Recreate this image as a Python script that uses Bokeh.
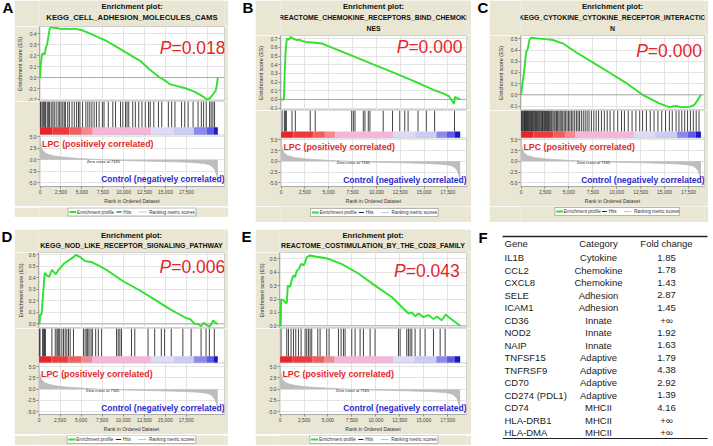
import math
from bokeh.plotting import figure
from bokeh.layouts import row, column
from bokeh.models import (Range1d, FixedTicker, PrintfTickFormatter, NumeralTickFormatter,
                          Span, Grid, Spacer, BoxAnnotation, Label)
from bokeh.embed import file_html
from bokeh.resources import INLINE
from bokeh.core.properties import value

FONT = "Liberation Sans"
BEIGE = "#e9e6d4"
GREEN = "#2fe02f"
RED = "#e3262b"
BLUE = "#2b2bcc"
GRIDC = "#e4e4e4"

# ---------------- data ----------------
panel_letters = ["A", "B", "C", "D", "E"]
title_lines = [
    ["Enrichment plot:", "KEGG_CELL_ADHESION_MOLECULES_CAMS"],
    ["Enrichment plot:", "REACTOME_CHEMOKINE_RECEPTORS_BIND_CHEMOKI", "NES"],
    ["Enrichment plot:", "KEGG_CYTOKINE_CYTOKINE_RECEPTOR_INTERACTIO", "N"],
    ["Enrichment plot:", "KEGG_NOD_LIKE_RECEPTOR_SIGNALING_PATHWAY"],
    ["Enrichment plot:", "REACTOME_COSTIMULATION_BY_THE_CD28_FAMILY"],
]
p_values = ["0.018", "0.000", "0.000", "0.006", "0.043"]
x_ticks = [0, 2500, 5000, 7500, 10000, 12500, 15000, 17500]
es_ticks = [
    [-0.2, -0.1, 0.0, 0.1, 0.2, 0.3, 0.4],
    [-0.1, 0.0, 0.1, 0.2, 0.3, 0.4, 0.5, 0.6, 0.7],
    [-0.1, 0.0, 0.1, 0.2, 0.3, 0.4, 0.5],
    [0.0, 0.1, 0.2, 0.3, 0.4, 0.5, 0.6],
    [0.0, 0.1, 0.2, 0.3, 0.4, 0.5],
]
metric_ticks = [-5.0, -2.5, 0.0, 2.5, 5.0]

es_rank_A = [0, 60, 150, 250, 400, 550, 700, 850, 1000, 1150, 1300, 1500, 2000, 2500, 3000,
             3500, 4100, 5000, 6000, 7000, 8000, 9000, 10000, 11000, 12000, 13000, 14300,
             15000, 15500, 16500, 17500, 18500, 19200, 19600, 19900, 20300, 20700, 21000,
             21150, 21250]
es_val_A = [0.0, 0.08, 0.16, 0.21, 0.22, 0.21, 0.27, 0.30, 0.37, 0.44, 0.46, 0.455, 0.45, 0.44,
            0.445, 0.44, 0.445, 0.43, 0.40, 0.365, 0.33, 0.285, 0.24, 0.195, 0.15, 0.08, 0.0,
            -0.03, -0.06, -0.08, -0.10, -0.13, -0.16, -0.18, -0.20, -0.19, -0.15, -0.12,
            -0.06, 0.0]
es_rank_B = [0, 300, 380, 480, 600, 800, 1000, 1150, 1300, 1500, 1700, 1900, 2200, 2600, 3000,
             3500, 4300, 6000, 8000, 10000, 12000, 14000, 16000, 17000, 17600, 18150, 18250,
             18450, 18800]
es_val_B = [0.0, 0.0, 0.30, 0.57, 0.70, 0.69, 0.72, 0.71, 0.70, 0.69, 0.685, 0.69, 0.675, 0.665,
            0.66, 0.655, 0.645, 0.57, 0.48, 0.39, 0.30, 0.21, 0.11, 0.07, 0.04, -0.05, 0.03,
            0.02, 0.0]
es_rank_C = [0, 120, 348, 522, 700, 870, 1044, 1500, 2262, 3306, 4350, 5742, 7482, 9222, 10962,
             12702, 14442, 15486, 16182, 16700, 17226, 17700, 18096, 18444, 18800]
es_val_C = [0.0, 0.08, 0.23, 0.38, 0.41, 0.49, 0.51, 0.505, 0.50, 0.49, 0.46, 0.38, 0.29, 0.20,
            0.107, 0.0, -0.076, -0.11, -0.10, -0.11, -0.11, -0.105, -0.09, -0.05, 0.0]
es_rank_D = [0, 80, 118, 300, 552, 670, 749, 946, 1221, 1537, 2010, 2325, 2916, 3507, 4098, 4373,
             4885, 5477, 6265, 7053, 8000, 10000, 12000, 14000, 15500, 16500, 17500, 18000,
             18500, 18900, 19270, 19600, 19900, 20250, 20500, 20700, 21000, 21250]
es_val_D = [0.0, 0.0, 0.08, 0.08, 0.32, 0.44, 0.44, 0.42, 0.41, 0.47, 0.43, 0.47, 0.52, 0.55,
            0.58, 0.60, 0.58, 0.545, 0.537, 0.508, 0.47, 0.37, 0.29, 0.20, 0.13, 0.09, 0.05,
            0.04, 0.0, 0.0, -0.02, 0.01, -0.01, -0.025, 0.0, 0.03, 0.01, 0.0]
es_rank_E = [0, 73, 104, 351, 630, 700, 804, 1044, 1218, 1395, 1566, 1740, 1984, 2193, 2440,
             2610, 2784, 3132, 3654, 4350, 5046, 6441, 8176, 9917, 11657, 13394, 13750, 14100,
             14440, 14960, 15484, 16006, 16355, 16877, 17300, 17572, 18800]
es_val_E = [0.0, 0.0, 0.198, 0.19, 0.17, 0.17, 0.30, 0.29, 0.34, 0.376, 0.364, 0.41, 0.426,
            0.463, 0.45, 0.475, 0.512, 0.525, 0.517, 0.51, 0.50, 0.46, 0.39, 0.30, 0.215, 0.092,
            0.10, 0.072, 0.092, 0.065, 0.08, 0.05, 0.07, 0.042, 0.085, 0.065, 0.0]

hits_A = [40, 120, 276, 434, 560, 670, 868, 1000, 1144, 1341, 1538, 1700, 1932, 2169, 2350, 2524,
          2721, 2900, 3037, 3312, 3510, 3825, 4101, 4377, 4600, 4771, 5087, 5481, 5718, 5954,
          6200, 6468, 6743, 7059, 7453, 7650, 8163, 8700, 9030, 9622, 9898, 10213, 10400, 10608,
          11081, 11396, 11800, 12185, 12579, 12973, 13170, 13600, 14157, 14551, 15340, 15734,
          16128, 16917, 17300, 17706, 18297, 18889, 19283, 19550, 19874, 20268, 20450, 20662,
          20860]
hits_B = [104, 348, 452, 557, 1148, 1496, 3062, 3584, 7412, 7586, 7760, 8630, 8804, 9152, 9326,
          10718, 11693, 12459, 12981, 13329, 14373, 15244, 16113, 18200]
hits_C = [40, 120, 200, 290, 350, 420, 480, 560, 640, 700, 790, 860, 950, 1020, 1100, 1180, 1270,
          1350, 1440, 1520, 1600, 1700, 1780, 1870, 1950, 2060, 2150, 2240, 2330, 2450, 2560,
          2650, 2760, 2870, 2980, 3100, 3200, 3330, 3450, 3560, 3700, 3820, 3950, 4080, 4200,
          4350, 4500, 4630, 4800, 4950, 5100, 5260, 5420, 5600, 5780, 5950, 6100, 6300, 6500,
          6700, 6900, 7100, 7350, 7600, 7850, 8100, 8400, 8700, 9000, 9300, 9700, 10100, 10500,
          10800, 11200, 11600, 12000, 12400, 12700, 13100, 13500, 13900, 14300, 14700, 15100,
          15500, 15800, 16200, 16500, 16800, 17100, 17400, 17700, 18000, 18300, 18600]
hits_D = [39, 120, 433, 520, 650, 760, 1537, 1931, 2128, 2246, 2364, 2482, 2719, 2916, 3113, 3310,
          3507, 3704, 4098, 5280, 5477, 5674, 5792, 5949, 6186, 6344, 6737, 7053, 7447, 9220,
          9417, 9614, 9811, 10993, 11387, 12963, 13751, 14539, 14932, 15721, 17100, 18084,
          19266, 19858, 20252, 20842]
hits_E = [100, 699, 873, 1148, 1395, 1639, 1917, 2193, 2610, 2784, 2961, 3132, 3306, 3935, 4176,
          4872, 5116, 6094, 6368, 6615, 6787, 7483, 7830, 8352, 8703, 9396, 9917, 12358, 12530,
          13225, 13400, 13573, 13750, 14095, 14617, 15139, 16013, 16709, 17232]

metric_rank_short = [0, 40, 120, 250, 450, 700, 1000, 1500, 2200, 3000, 4000, 5200, 6200, 7165,
                     8500, 10000, 11500, 13000, 14500, 15800, 16800, 17500, 17950, 18250, 18500,
                     18680, 18800]
metric_rank_long = [0, 45, 135, 280, 500, 780, 1100, 1650, 2400, 3200, 4200, 5400, 6300, 7165,
                    8800, 10600, 12400, 14300, 16200, 17800, 18900, 19700, 20250, 20600, 20900,
                    21130, 21250]
metric_values = [5.5, 4.2, 3.0, 2.2, 1.7, 1.35, 1.1, 0.85, 0.65, 0.5, 0.35, 0.2, 0.1, 0.0, -0.1,
                 -0.2, -0.28, -0.36, -0.45, -0.55, -0.68, -0.85, -1.1, -1.5, -2.2, -3.4, -5.0]
zero_cross = 7165

grad_edges_long = [0, 1500, 3500, 5000, 6300, 13300, 16000, 18400, 19900, 20800, 21250]
grad_edges_short = [0, 1300, 3400, 4600, 5700, 11800, 14000, 16300, 17400, 18250, 18800]
grad_colors = ["#e8232a", "#ec3a3d", "#ef5f62", "#f28a8f", "#f6b6da", "#dcdcf7", "#cdcdf4",
               "#8a8aee", "#5b5be6", "#1717c4"]

legend_labels = ["Enrichment profile", "Hits", "Ranking metric scores"]
legend_colors = [GREEN, "#222222", "#c4c4c4"]
legend_widths = [2, 1, 1]

table_header = ["Gene", "Category", "Fold change"]
table_genes = ["IL1B", "CCL2", "CXCL8", "SELE", "ICAM1", "CD36", "NOD2", "NAIP", "TNFSF15",
               "TNFRSF9", "CD70", "CD274 (PDL1)", "CD74", "HLA-DRB1", "HLA-DMA"]
table_categories = ["Cytokine", "Chemokine", "Chemokine", "Adhesion", "Adhesion", "Innate",
                    "Innate", "Innate", "Adaptive", "Adaptive", "Adaptive", "Adaptive", "MHCII",
                    "MHCII", "MHCII"]
table_fold = ["1.85", "1.78", "1.43", "2.87", "1.45", "+\u221e", "1.92", "1.63", "1.79", "4.38",
              "2.92", "1.39", "4.16", "+\u221e", "+\u221e"]

es_ranks = [es_rank_A, es_rank_B, es_rank_C, es_rank_D, es_rank_E]
es_vals = [es_val_A, es_val_B, es_val_C, es_val_D, es_val_E]
hits = [hits_A, hits_B, hits_C, hits_D, hits_E]
long_set = [True, False, False, True, False]

# ---------------- layout (pixels / positions) ----------------
cfgs = [
    dict(w=214, L=23, R=4, x_end=22050, title_h=26, title_y=[6, 17], t_fs="7.7px", es_h=75,
         es_range=(-0.218, 0.464), hits_h=35, g=0.296, m_frame=54, ax_h=16, leg_h=11,
         leg_b=2.5, leg_x0=33, m_range=(-5.83, 5.42), p_pos=(15720, 0.27), lab_x=-15),
    dict(w=216, L=24, R=5, x_end=19460, title_h=35, title_y=[6, 17, 28], t_fs="6.9px", es_h=75,
         es_range=(-0.127, 0.738), hits_h=29, g=0.318, m_frame=51, ax_h=16, leg_h=16,
         leg_b=6, leg_x0=35, m_range=(-5.89, 5.44), p_pos=(13360, 0.60), lab_x=-16.5),
    dict(w=219, L=31, R=4, x_end=19170, title_h=35, title_y=[6, 17, 28], t_fs="6.9px", es_h=75,
         es_range=(-0.14, 0.53), hits_h=29, g=0.318, m_frame=51, ax_h=16, leg_h=16,
         leg_b=7, leg_x0=41, m_range=(-5.89, 5.44), p_pos=(13250, 0.39), lab_x=-15),
    dict(w=214, L=23, R=4, x_end=22050, title_h=23, title_y=[6, 16], t_fs="7px", es_h=76,
         es_range=(-0.04, 0.62), hits_h=36, g=0.241, m_frame=54, ax_h=16, leg_h=11,
         leg_b=3, leg_x0=33, m_range=(-5.64, 5.85), p_pos=(15720, 0.49), lab_x=-15),
    dict(w=216, L=24, R=5, x_end=19460, title_h=23, title_y=[6, 16], t_fs="7px", es_h=76,
         es_range=(-0.02, 0.547), hits_h=36, g=0.241, m_frame=54, ax_h=16, leg_h=11,
         leg_b=3, leg_x0=35, m_range=(-5.64, 5.85), p_pos=(13120, 0.41), lab_x=-16),
]
X_START = -60
# legend item geometry relative to the legend box left: (glyph start, glyph width, standoff)
leg_items_geom = [(1.5, 8, 1), (56, 6, 2), (82, 9, 3)]
LEG_BOX_W = 148
LEG_BOX_H = 8


def common(**kw):
    return dict(output_backend="svg", toolbar_location=None, title_location=None, **kw)


def style_axis(ax, label, size):
    if label is not None:
        ax.axis_label = label
    ax.axis_label_text_font = FONT
    ax.axis_label_text_font_size = size
    ax.axis_label_text_font_style = "normal"
    ax.axis_label_text_color = "#333333"
    ax.axis_label_standoff = 1
    ax.major_label_text_font = FONT
    ax.major_label_text_font_size = "4.9px"
    ax.major_label_text_color = "#444444"
    ax.major_label_standoff = 1
    ax.major_tick_out = 2
    ax.major_tick_in = 0
    ax.minor_tick_out = 0
    ax.minor_tick_in = 0
    ax.major_tick_line_color = "#888888"
    ax.axis_line_color = "#9a9a9a"
    ax.axis_line_width = 0.7


def beige_box(p):
    p.grid.visible = False
    p.outline_line_color = None
    p.background_fill_color = BEIGE
    p.border_fill_color = BEIGE


def panel(i):
    c = cfgs[i]
    w = c["w"]
    n_lines = len(title_lines[i])
    # title strip
    pt = figure(width=w, height=c["title_h"], x_range=Range1d(0, 1),
                y_range=Range1d(c["title_h"], 0), x_axis_location=None,
                y_axis_location=None, min_border=0, **common())
    beige_box(pt)
    pt.text(x=[0.5], y=c["title_y"][:1], text=title_lines[i][:1], text_align="center",
            text_baseline="middle", text_font=value(FONT), text_font_style="bold",
            text_font_size="7.7px", text_color="#111111")
    pt.text(x=[0.5] * (n_lines - 1), y=c["title_y"][1:], text=title_lines[i][1:],
            text_align="center", text_baseline="middle", text_font=value(FONT),
            text_font_style="bold", text_font_size=c["t_fs"], text_color="#111111")

    xr = Range1d(X_START, c["x_end"])
    # enrichment score
    pe = figure(width=w, height=c["es_h"], x_range=xr, y_range=Range1d(*c["es_range"]),
                x_axis_location=None, min_border_left=c["L"], min_border_right=c["R"],
                min_border_top=0, min_border_bottom=0, **common())
    pe.background_fill_color = "white"
    pe.border_fill_color = BEIGE
    pe.outline_line_color = "#c4c4c4"
    pe.outline_line_width = 0.8
    pe.yaxis.ticker = FixedTicker(ticks=es_ticks[i])
    pe.yaxis.formatter = PrintfTickFormatter(format="%.1f")
    style_axis(pe.yaxis[0], "Enrichment score (ES)", "5.4px")
    pe.yaxis.axis_label_standoff = 2
    pe.ygrid.grid_line_color = GRIDC
    pe.add_layout(Grid(dimension=0, ticker=FixedTicker(ticks=x_ticks), grid_line_color=GRIDC))
    pe.add_layout(Span(location=0, dimension="width", line_color="#9a9a9a", line_width=0.8))
    pe.line(es_ranks[i], es_vals[i], line_color=GREEN, line_width=1.9)
    px, py = c["p_pos"]
    pe.text(x=[px], y=[py], text=["P"], text_align="right", text_baseline="middle",
            text_font=value(FONT), text_font_style="italic", text_font_size="17.5px",
            text_color=RED)
    pe.text(x=[px], y=[py], text=["=" + p_values[i]], text_align="left", text_baseline="middle",
            text_font=value(FONT), text_font_size="17.5px", text_color=RED)

    # hits + gradient + ranked metric in one frame
    g = c["g"]
    hh = c["hits_h"]
    mf = c["m_frame"]
    m_lo, m_hi = c["m_range"]
    upp = (m_hi - m_lo) / mf
    edges = grad_edges_long if long_set[i] else grad_edges_short
    mr = metric_rank_long if long_set[i] else metric_rank_short
    pm = figure(width=w, height=hh + mf + c["ax_h"], x_range=xr,
                y_range=Range1d(m_lo, m_hi + hh * upp),
                min_border_left=c["L"], min_border_right=c["R"], min_border_top=0,
                min_border_bottom=c["ax_h"], **common())
    pm.extra_y_ranges = {"hits": Range1d(1 - (hh + mf) * (1 + g) / hh, 1)}
    pm.background_fill_color = "white"
    pm.border_fill_color = BEIGE
    pm.outline_line_color = "#c4c4c4"
    pm.outline_line_width = 0.8
    pm.xaxis.ticker = FixedTicker(ticks=x_ticks)
    pm.xaxis.formatter = NumeralTickFormatter(format="0,0")
    pm.yaxis.ticker = FixedTicker(ticks=metric_ticks)
    pm.yaxis.formatter = PrintfTickFormatter(format="%.1f")
    style_axis(pm.xaxis[0], "Rank in Ordered Dataset", "5px")
    style_axis(pm.yaxis[0], None, "5px")
    pm.yaxis.axis_line_color = None
    pm.grid.grid_line_color = GRIDC
    pm.add_layout(BoxAnnotation(bottom=m_hi, fill_color="white", fill_alpha=1.0,
                                line_color=None, level="underlay"))
    pm.add_layout(Span(location=m_hi, dimension="width", line_color="#c4c4c4", line_width=0.8))
    pm.quad(left=edges[:-1], right=edges[1:], bottom=-g, top=0, fill_color=grad_colors,
            line_color=None, y_range_name="hits")
    pm.segment(x0=hits[i], y0=0, x1=hits[i], y1=1, line_color="#151515", line_width=0.9,
               line_alpha=0.9, y_range_name="hits")
    pm.varea(x=mr, y1=0, y2=metric_values, fill_color="#bdbdbd")
    pm.line(mr, metric_values, line_color="#bcbcbc", line_width=0.8)
    pm.text(x=[zero_cross + 400], y=[-0.35], text=["Zero cross at %d" % zero_cross],
            text_align="center", text_baseline="middle", text_font=value(FONT),
            text_font_size="4px", text_color="#222222")
    pm.text(x=[250], y=[3.4], text=["LPC (positively correlated)"], text_align="left",
            text_baseline="middle", text_font=value(FONT), text_font_style="bold",
            text_font_size="8.8px", text_color="#e02a2a")
    pm.text(x=[c["x_end"]], y=[-4.3], text=["Control (negatively correlated)"],
            text_align="right", text_baseline="middle", text_font=value(FONT),
            text_font_style="bold", text_font_size="8.5px", text_color=BLUE)
    frame_w = w - c["L"] - c["R"]
    ppr = frame_w / (c["x_end"] - X_START)
    pm.add_layout(Label(x=X_START + c["lab_x"] / ppr, y=0.5, x_units="data", y_units="data",
                        text="Ranked list metric (Signal2Noise)", angle=math.pi / 2,
                        text_align="center", text_baseline="middle", text_font=FONT,
                        text_font_size="5px", text_color="#333333"))

    # legend strip (box, sample lines and labels)
    lh = c["leg_h"]
    pl = figure(width=w, height=lh, x_range=Range1d(0, w), y_range=Range1d(0, lh),
                x_axis_location=None, y_axis_location=None, min_border=0, **common())
    beige_box(pl)
    x0 = c["leg_x0"]
    b = c["leg_b"]
    yc = b + LEG_BOX_H / 2
    pl.quad(left=[x0], right=[x0 + LEG_BOX_W], bottom=[b], top=[b + LEG_BOX_H],
            fill_color="white", line_color="#9a9a9a", line_width=0.7)
    gx0 = [x0 + gx for gx, gw, gs in leg_items_geom]
    gx1 = [x0 + gx + gw for gx, gw, gs in leg_items_geom]
    tx = [x0 + gx + gw + gs for gx, gw, gs in leg_items_geom]
    pl.segment(x0=gx0, y0=[yc] * 3, x1=gx1, y1=[yc] * 3, line_color=legend_colors,
               line_width=legend_widths)
    pl.text(x=tx, y=[yc] * 3, text=legend_labels, text_align="left", text_baseline="middle",
            text_font=value(FONT), text_font_size="4.6px", text_color="#333333")
    return column(pt, pe, pm, pl)


def letter_fig(letter, w, h, x):
    p = figure(width=w, height=h, x_range=Range1d(0, w), y_range=Range1d(h, 0),
               x_axis_location=None, y_axis_location=None, min_border=0, **common())
    p.grid.visible = False
    p.outline_line_color = None
    p.text(x=[x], y=[-1.5], text=[letter], text_align="left", text_baseline="top",
           text_font=value(FONT), text_font_style="bold", text_font_size="15px",
           text_color="#000000")
    return p


def table_fig(w, h):
    rows_y = list(range(len(table_genes)))
    p = figure(width=w, height=h, x_range=Range1d(0, w), y_range=Range1d(15.04, -2.24),
               x_axis_location=None, y_axis_location=None, min_border=0, **common())
    p.grid.visible = False
    p.outline_line_color = None
    p.text(x=[7], y=[-2.3], text=["F"], text_align="left", text_baseline="top",
           text_font=value(FONT), text_font_style="bold", text_font_size="15px",
           text_color="#000000")
    kw = dict(text_baseline="middle", text_font=value(FONT), text_font_size="9.5px",
              text_color="#222222")
    col_x = [33, 127, 195]
    aligns = ["left", "center", "center"]
    for cx, al, hd in zip(col_x, aligns, table_header):
        p.text(x=[cx], y=[-1.12], text=[hd], text_align=al, **kw)
    p.text(x=col_x[0], y=rows_y, text=table_genes, text_align="left", **kw)
    p.text(x=col_x[1], y=rows_y, text=table_categories, text_align="center", **kw)
    p.text(x=col_x[2], y=rows_y, text=table_fold, text_align="center", **kw)
    p.segment(x0=[31, 31], y0=[-1.68, 14.48], x1=[236, 236], y1=[-1.68, 14.48],
              line_color="#222222", line_width=[1.4, 1.2])
    return p


row1 = row(letter_fig("A", 14, 222, 2), panel(0),
           letter_fig("B", 27, 222, 14), panel(1),
           letter_fig("C", 18, 222, 6), panel(2))
row2 = row(letter_fig("D", 14, 216, 1), panel(3),
           letter_fig("E", 27, 216, 13), panel(4),
           table_fig(239, 216))
layout = column(row1, Spacer(width=10, height=7), row2)

open("out.html", "w").write(file_html(layout, INLINE))
